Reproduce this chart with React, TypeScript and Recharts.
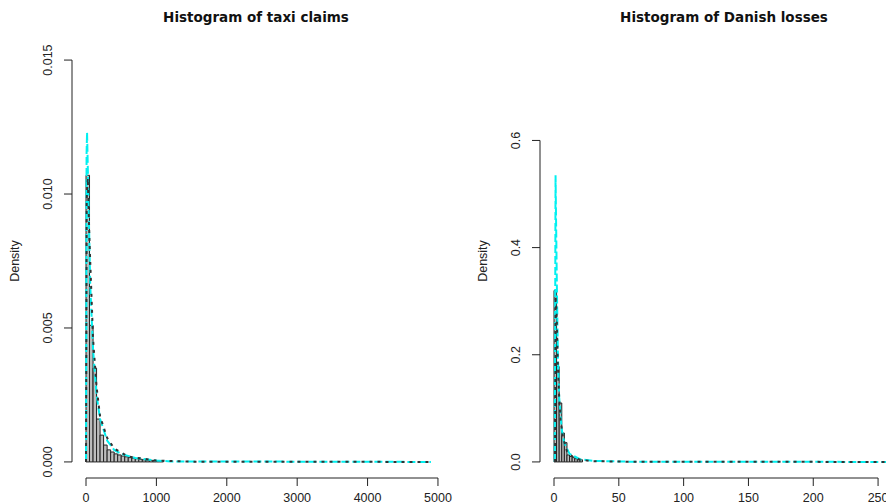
import { ComposedChart, Line, XAxis, YAxis, ReferenceArea, ReferenceLine } from 'recharts';

// taxi claims histogram (bin edges + densities)
const taxiEdges = [0, 50, 100, 150, 200, 250, 300, 350, 400, 450, 500, 550, 600, 650, 700, 750, 800, 850, 900, 950, 1000, 1050, 1100];
const taxiDensity = [0.0107, 0.0051, 0.0035, 0.0016, 0.001, 0.00063, 0.00045, 0.00037, 0.0003, 0.00026, 0.00022, 0.00019, 0.00016, 0.00014, 0.00012, 0.0001, 0.00008, 0.00007, 0.00006, 0.00005, 0.00004, 0.00003];
const taxiKernelX = [0, 8, 15, 30, 60, 100, 150, 200, 300, 400, 500, 700, 1000, 1200, 4900];
const taxiKernelY = [0, 0.0115, 0.0123, 0.0104, 0.0066, 0.0042, 0.0025, 0.0016, 0.0008, 0.00045, 0.0003, 0.00015, 0.00005, 0.00002, 0];
const taxiFitX = [0, 10, 25, 50, 100, 150, 200, 300, 400, 600, 1000, 1500, 4900];
const taxiFitY = [0, 0.0098, 0.0106, 0.0082, 0.0046, 0.0028, 0.0017, 0.0009, 0.0005, 0.0002, 0.00005, 0.00001, 0];

// Danish fire losses histogram
const danishEdges = [0, 2, 4, 6, 8, 10, 12, 14, 16, 18, 20, 22];
const danishDensity = [0.32, 0.178, 0.11, 0.054, 0.036, 0.013, 0.01, 0.008, 0.006, 0.005, 0.004];
const danishKernelX = [0.6, 1.2, 1.6, 2.2, 3, 4, 6, 8, 12, 20, 30, 60, 270];
const danishKernelY = [0, 0.535, 0.45, 0.33, 0.2, 0.12, 0.06, 0.035, 0.015, 0.005, 0.002, 0.0004, 0];
const danishFitX = [0.8, 1.2, 2, 3, 4, 5, 7, 10, 15, 20, 30, 60, 270];
const danishFitY = [0, 0.31, 0.28, 0.18, 0.12, 0.08, 0.045, 0.02, 0.008, 0.004, 0.0015, 0.0003, 0];

const taxiXTicks = [0, 1000, 2000, 3000, 4000, 5000];
const taxiYTicks = [0, 0.005, 0.01, 0.015];
const danishXTicks = [0, 50, 100, 150, 200, 250];
const danishYTicks = [0, 0.2, 0.4, 0.6];

const FONT = '"Liberation Sans", Arial, sans-serif';
const INK = '#222';

const toPts = (xs: number[], ys: number[]) => xs.map((x, i) => ({ x, y: ys[i] }));

type PanelProps = {
  left: number;
  edges: number[];
  density: number[];
  kernel: { x: number; y: number }[];
  fit: { x: number; y: number }[];
  xDomain: [number, number];
  yDomain: [number, number];
  xTicks: number[];
  yTicks: number[];
  yDigits: number;
};

function Panel({ left, edges, density, kernel, fit, xDomain, yDomain, xTicks, yTicks, yDigits }: PanelProps) {
  const yTick = (p: any) => (
    <text
      x={p.x - 14}
      y={p.y}
      transform={`rotate(-90, ${p.x - 14}, ${p.y})`}
      textAnchor="middle"
      dominantBaseline="central"
      fontFamily={FONT}
      fontSize={12.5}
      fill={INK}
    >
      {Number(p.payload.value).toFixed(yDigits)}
    </text>
  );
  return (
    <div style={{ position: 'absolute', left, top: 0 }}>
      <ComposedChart width={470} height={530} margin={{ top: 44, right: 20, bottom: 12, left: 0 }}>
        <XAxis
          type="number"
          dataKey="x"
          domain={xDomain}
          allowDataOverflow
          ticks={xTicks}
          interval={0}
          axisLine={false}
          tickLine={{ stroke: INK }}
          tickSize={8}
          tickMargin={7}
          height={40}
          tick={{ fill: INK, fontSize: 12.5, fontFamily: FONT }}
        />
        <YAxis
          type="number"
          dataKey="y"
          domain={yDomain}
          allowDataOverflow
          ticks={yTicks}
          interval={0}
          axisLine={false}
          tickLine={{ stroke: INK }}
          tickSize={8}
          width={72}
          tick={yTick}
        />
        <ReferenceLine
          segment={[{ x: xDomain[0], y: yTicks[0] }, { x: xDomain[0], y: yTicks[yTicks.length - 1] }]}
          stroke={INK}
          ifOverflow="visible"
        />
        <ReferenceLine
          segment={[{ x: xTicks[0], y: yDomain[0] }, { x: xTicks[xTicks.length - 1], y: yDomain[0] }]}
          stroke={INK}
          ifOverflow="visible"
        />
        {density.map((d, i) => (
          <ReferenceArea
            key={i}
            x1={edges[i]}
            x2={edges[i + 1]}
            y1={0}
            y2={d}
            fill="#bdbdbd"
            fillOpacity={1}
            stroke={INK}
            strokeWidth={1}
            ifOverflow="visible"
          />
        ))}
        <Line
          data={kernel}
          dataKey="y"
          type="linear"
          stroke="#00f0f0"
          strokeWidth={2}
          strokeDasharray="8 3"
          dot={false}
          isAnimationActive={false}
        />
        <Line
          data={fit}
          dataKey="y"
          type="linear"
          stroke="#333"
          strokeWidth={2}
          strokeDasharray="3 5"
          dot={false}
          isAnimationActive={false}
        />
      </ComposedChart>
    </div>
  );
}

const titleStyle = (cx: number): React.CSSProperties => ({
  position: 'absolute',
  top: 9,
  left: cx - 150,
  width: 300,
  textAlign: 'center',
  fontFamily: '"DejaVu Sans", sans-serif',
  fontWeight: 'bold',
  fontSize: 13.5,
  lineHeight: '16px',
  color: '#111',
});

const densityStyle = (cx: number): React.CSSProperties => ({
  position: 'absolute',
  left: cx - 40,
  top: 253,
  width: 80,
  height: 16,
  lineHeight: '16px',
  textAlign: 'center',
  transform: 'rotate(-90deg)',
  fontFamily: FONT,
  fontSize: 12.5,
  color: INK,
});

export default function App() {
  return (
    <div style={{ position: 'absolute', left: 0, top: 0, width: 886, height: 504, overflow: 'hidden', background: '#fff' }}>
      <Panel
        left={0}
        edges={taxiEdges}
        density={taxiDensity}
        kernel={toPts(taxiKernelX, taxiKernelY)}
        fit={toPts(taxiFitX, taxiFitY)}
        xDomain={[-199, 5171]}
        yDomain={[-0.0006, 0.0156]}
        xTicks={taxiXTicks}
        yTicks={taxiYTicks}
        yDigits={3}
      />
      <Panel
        left={468}
        edges={danishEdges}
        density={danishDensity}
        kernel={toPts(danishKernelX, danishKernelY)}
        fit={toPts(danishFitX, danishFitY)}
        xDomain={[-10.8, 280.8]}
        yDomain={[-0.03, 0.78]}
        xTicks={danishXTicks}
        yTicks={danishYTicks}
        yDigits={1}
      />
      <div style={titleStyle(256)}>Histogram of taxi claims</div>
      <div style={titleStyle(724)}>Histogram of Danish losses</div>
      <div style={densityStyle(15)}>Density</div>
      <div style={densityStyle(483)}>Density</div>
    </div>
  );
}
